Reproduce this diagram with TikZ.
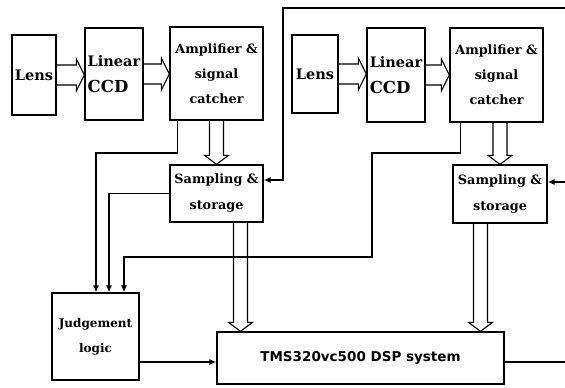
\documentclass[tikz,border=0pt]{standalone}
\usepackage{fontspec}
\setmainfont{DejaVu Serif}
\newfontfamily\tmsfont{DejaVu Sans}
\usetikzlibrary{calc,arrows.meta}
\tikzset{
  blk/.style={draw, line width=1.3pt, inner sep=0pt, align=center, font=\bfseries},
  conn/.style={line width=1.3pt},
  arr/.style={conn, -{Latex[length=7pt,width=6pt]}},
  hollowh/.style={line width=1.1pt, to path={let \p1=(\tikztostart), \p2=(\tikztotarget) in
     (\x1,\y1+10pt) -- (\x2-8pt,\y1+10pt) -- (\x2-8pt,\y1+16pt) -- (\x2,\y1) -- (\x2-8pt,\y1-16pt) -- (\x2-8pt,\y1-10pt) -- (\x1,\y1-10pt)}},
  hollowv/.style={line width=1.1pt, to path={let \p1=(\tikztostart), \p2=(\tikztotarget) in
     (\x1-7pt,\y1) -- (\x1-7pt,\y2+9pt) -- (\x1-12pt,\y2+9pt) -- (\x1,\y2) -- (\x1+12pt,\y2+9pt) -- (\x1+7pt,\y2+9pt) -- (\x1+7pt,\y1)}},
}
\begin{document}
\begin{tikzpicture}[x=1pt,y=-1pt]
\useasboundingbox (0,0) rectangle (565,388);
% left chain
\node[blk, minimum width=44pt, minimum height=80pt, font=\bfseries\fontsize{14.5}{17}\selectfont] (lens1) at (34,75) {Lens};
\node[blk, minimum width=58pt, minimum height=92pt, align=left, font=\bfseries\fontsize{14.5}{26}\selectfont] (ccd1) at (114,74) {Linear\\{\fontsize{16.5}{26}\selectfont CCD}};
\node[blk, minimum width=93pt, minimum height=93pt, font=\bfseries\fontsize{12.8}{25}\selectfont] (amp1) at (216.5,73.5) {Amplifier \&\\signal\\catcher};
\node[blk, minimum width=93pt, minimum height=57pt, font=\bfseries\fontsize{12.8}{26}\selectfont] (samp1) at (216.5,193.5) {Sampling \&\\storage};
% right chain
\node[blk, minimum width=46pt, minimum height=78pt, font=\bfseries\fontsize{14.5}{17}\selectfont] (lens2) at (315,74) {Lens};
\node[blk, minimum width=58pt, minimum height=94pt, align=left, font=\bfseries\fontsize{14.5}{26}\selectfont] (ccd2) at (396,75) {Linear\\{\fontsize{16.5}{26}\selectfont CCD}};
\node[blk, minimum width=93pt, minimum height=94pt, font=\bfseries\fontsize{12.8}{25}\selectfont] (amp2) at (496.5,75) {Amplifier \&\\signal\\catcher};
\node[blk, minimum width=94pt, minimum height=58pt, font=\bfseries\fontsize{12.8}{26}\selectfont] (samp2) at (500,194) {Sampling \&\\storage};
% bottom
\node[blk, minimum width=87pt, minimum height=87pt, font=\bfseries\fontsize{12}{25}\selectfont] (judge) at (95.5,336.5) {Judgement\\logic};
\node[blk, minimum width=287pt, minimum height=52pt, font=\tmsfont\bfseries\fontsize{13.5}{16}\selectfont] (tms) at (360.5,358) {TMS320vc500 DSP system};
% free ends and helper points
\coordinate (fbin) at (565,8);
\coordinate (in2) at (565,182);
\coordinate (tmsout) at (565,362);
\coordinate (s1o) at ($(samp1.south)+(24,0)$);
\coordinate (s2o) at ($(samp2.south)+(-19.5,0)$);
% hollow arrows
\draw[hollowh] (lens1.east) to (ccd1.west |- lens1.east);
\draw[hollowh] (ccd1.east) to (amp1.west |- ccd1.east);
\draw[hollowh] (lens2.east) to (ccd2.west |- lens2.east);
\draw[hollowh] (ccd2.east) to (amp2.west |- ccd2.east);
\draw[hollowv] (amp1.south) to (samp1.north -| amp1.south);
\draw[hollowv] (samp2.north |- amp2.south) to (samp2.north);
\draw[hollowv] (s1o) to (s1o |- tms.north);
\draw[hollowv] (s2o) to (s2o |- tms.north);
% judgement inputs
\draw[arr] ($(amp1.south west)+(8,0)$) |- (96,153) -- (judge.north -| 96,0);
\draw[arr] (samp1.west) -| ($(judge.north)+(13.5,0)$);
\draw[arr] ($(amp2.south west)+(11,0)$) |- (372,153) |- (124,257) -- ($(judge.north)+(28.5,0)$);
% feedback inputs
\draw[arr] (fbin) -| (283,180) -- ($(samp1.east)+(0,-13.5)$);
\draw[arr] (in2) -- (in2 -| samp2.east);
% outputs
\draw[arr] (judge.east |- tmsout) -- (tms.west |- tmsout);
\draw[conn] (tms.east |- tmsout) -- (tmsout);
\end{tikzpicture}
\end{document}
